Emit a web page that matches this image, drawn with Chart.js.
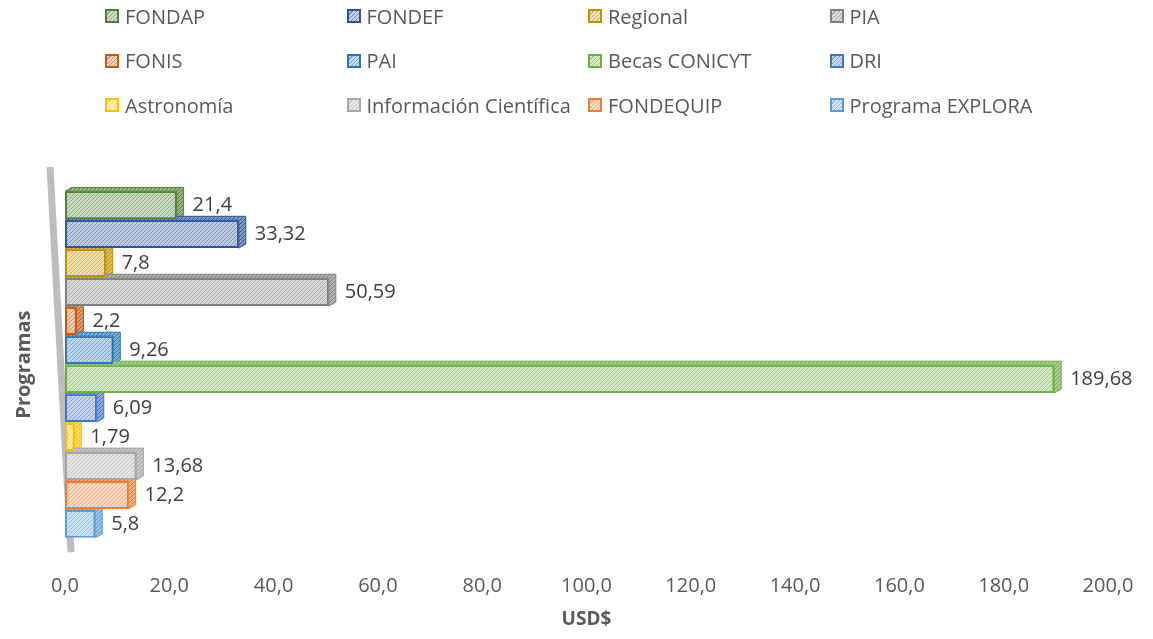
<!DOCTYPE html>
<html>
<head>
<meta charset="utf-8">
<script src="https://cdn.jsdelivr.net/npm/chart.js@4.4.1/dist/chart.umd.min.js"></script>
<style>
  body { margin: 0; background: #fff; }
  #wrap { position: relative; width: 1153px; height: 639px; }
  #legend {
    position: absolute; left: 105px; top: -6px;
    display: grid; grid-template-columns: repeat(4, 241.5px); grid-auto-rows: 44.5px;
    font: 20px "Open Sans", sans-serif; color: #595959;
  }
  #legend div { display: flex; align-items: center; white-space: nowrap; }
  #legend span.box { width: 10px; height: 10px; border: 2px solid; margin-right: 6px; flex: none; }
</style>
</head>
<body>
<div id="wrap">
  <canvas id="c" width="1153" height="639"></canvas>
  <div id="legend"></div>
</div>
<script>
// programas y montos (USD$)
const programas = ['FONDAP', 'FONDEF', 'Regional', 'PIA', 'FONIS', 'PAI', 'Becas CONICYT', 'DRI',
  'Astronomía', 'Información Científica', 'FONDEQUIP', 'Programa EXPLORA']
const montos = [21.4, 33.32, 7.8, 50.59, 2.2, 9.26, 189.68, 6.09, 1.79, 13.68, 12.2, 5.8]
const colores = ['#548235', '#2F5597', '#BF9000', '#7F7F7F', '#C55A11', '#2E75B6', '#70AD47', '#4472C4',
  '#FFC000', '#A5A5A5', '#ED7D31', '#5B9BD5']
const xTicks = { min: 0, max: 200, step: 20 }

const coma = v => String(v).replace('.', ',')

// hatch fill: light tint + diagonal stripes
function hatch(color, bgAlpha, lineAlpha) {
  const c = document.createElement('canvas')
  c.width = c.height = 4
  const g = c.getContext('2d')
  g.fillStyle = '#fff'
  g.fillRect(0, 0, 4, 4)
  g.globalAlpha = bgAlpha
  g.fillStyle = color
  g.fillRect(0, 0, 4, 4)
  g.globalAlpha = lineAlpha
  g.strokeStyle = color
  g.lineWidth = 1
  g.beginPath()
  g.moveTo(0, 4); g.lineTo(4, 0)
  g.moveTo(-1, 1); g.lineTo(1, -1)
  g.moveTo(3, 5); g.lineTo(5, 3)
  g.stroke()
  return g.createPattern(c, 'repeat')
}

const DX = 7, DY = -4

// 3D-ish depth faces + the slanted wall, drawn behind the bar fronts
const depth = {
  id: 'depth',
  beforeDatasetsDraw(chart) {
    const ctx = chart.ctx
    const a = chart.chartArea
    const x0 = chart.scales.x.getPixelForValue(0)
    ctx.save()
    ctx.strokeStyle = '#bdbdbd'
    ctx.lineWidth = 7
    ctx.beginPath()
    ctx.moveTo(x0 - 15, a.top - 22)
    ctx.lineTo(x0 + 6, a.bottom + 12)
    ctx.stroke()
    chart.data.datasets.forEach((ds, i) => {
      const bar = chart.getDatasetMeta(i).data[0]
      const p = bar.getProps(['x', 'y', 'base', 'height'], true)
      const top = p.y - p.height / 2, bot = p.y + p.height / 2
      ctx.fillStyle = ds.depthFill
      ctx.strokeStyle = ds.borderColor
      ctx.lineWidth = 1
      ctx.beginPath()
      ctx.moveTo(p.base, top)
      ctx.lineTo(p.base + DX, top + DY)
      ctx.lineTo(p.x + DX, top + DY)
      ctx.lineTo(p.x + DX, bot + DY)
      ctx.lineTo(p.x, bot)
      ctx.lineTo(p.x, top)
      ctx.closePath()
      ctx.fill()
      ctx.stroke()
    })
    ctx.restore()
  },
  afterDatasetsDraw(chart) {
    const ctx = chart.ctx
    ctx.save()
    ctx.font = '20px "Open Sans"'
    ctx.fillStyle = '#404040'
    ctx.textBaseline = 'middle'
    chart.data.datasets.forEach((ds, i) => {
      const bar = chart.getDatasetMeta(i).data[0]
      ctx.fillText(coma(ds.data[0]), bar.x + DX + 9, bar.y)
    })
    ctx.restore()
  }
}

Chart.defaults.font.family = '"Open Sans", sans-serif'
Chart.defaults.color = '#595959'

new Chart(document.getElementById('c'), {
  type: 'bar',
  data: {
    labels: [''],
    datasets: programas.map((p, i) => ({
      label: p,
      data: [montos[i]],
      backgroundColor: hatch(colores[i], 0.3, 0.5),
      depthFill: hatch(colores[i], 0.6, 1),
      borderColor: colores[i],
      borderWidth: 2,
      borderSkipped: false,
      categoryPercentage: 0.99,
      barPercentage: 0.96
    }))
  },
  options: {
    indexAxis: 'y',
    responsive: false,
    animation: false,
    layout: { padding: { top: 189, left: 12, right: 13, bottom: 8 } },
    plugins: { legend: { display: false }, tooltip: { enabled: false } },
    scales: {
      x: {
        min: xTicks.min, max: xTicks.max,
        grid: { display: false }, border: { display: false },
        afterFit: s => { s.paddingRight = 45 },
        ticks: { stepSize: xTicks.step, padding: 26, font: { size: 20 }, callback: v => v.toFixed(1).replace('.', ',') },
        title: { display: true, text: 'USD$', font: { size: 19, weight: 'bold' }, padding: { top: -16, bottom: 0 } }
      },
      y: {
        grid: { display: false }, border: { display: false },
        ticks: { display: false },
        title: { display: true, text: 'Programas', font: { size: 20, weight: 'bold' }, padding: { top: 0, bottom: 21 } }
      }
    }
  },
  plugins: [depth]
})

// legend as a 4-column grid
const lg = document.getElementById('legend')
programas.forEach((p, i) => {
  const d = document.createElement('div')
  const b = document.createElement('span')
  b.className = 'box'
  b.style.borderColor = colores[i]
  b.style.background = `repeating-linear-gradient(135deg, ${colores[i]}44 0 2px, ${colores[i]}aa 2px 3px)`
  d.appendChild(b)
  d.appendChild(document.createTextNode(p))
  lg.appendChild(d)
})
</script>
</body>
</html>
